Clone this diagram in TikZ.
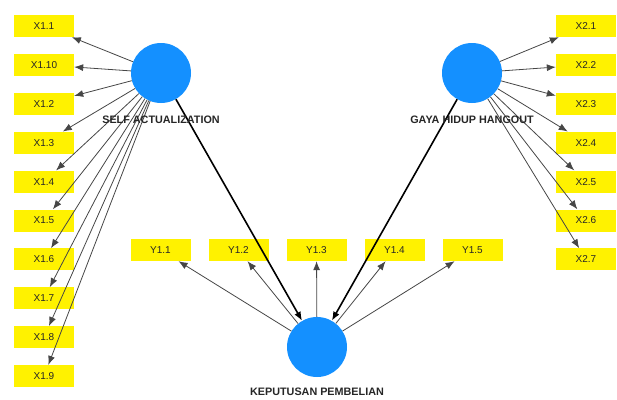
\documentclass[tikz,border=0pt]{standalone}
\usepackage{fontspec}
\setmainfont{Liberation Sans}
\usetikzlibrary{arrows.meta}

\definecolor{latentblue}{RGB}{20,144,255}
\definecolor{pathgray}{RGB}{70,70,70}

\begin{document}
\begin{tikzpicture}[x = 1pt, y = -1pt, > = {Latex[length = 9pt, width = 7pt]},
	indicator/.style = {fill = yellow, minimum width = 60pt, minimum height = 22pt, inner sep = 0pt,
		font = \fontsize{10}{12}\selectfont, text = black!85},
	latent/.style = {circle, fill = latentblue, minimum size = 60pt, inner sep = 0pt},
	lvlabel/.style = {font = \bfseries\fontsize{10.8}{12}\selectfont, text = black!85},
	loading/.style = {->, draw = pathgray, line width = 0.8pt},
	structural/.style = {->, black, line width = 1.6pt}]

	\useasboundingbox (0, 0) rectangle (617, 399);

	% Definitions

	\def\dy{38.9}		% Vertical spacing of indicators
	\def\dx{78}			% Horizontal spacing of indicators

	% Latent variables

	\node [latent] (SA) at (161, 73) {};
	\node [latent] (GHH) at (472, 73) {};
	\node [latent] (KP) at (317, 347) {};

	% Indicators

	\foreach \lbl [count = \i] in {1.1, 1.10, 1.2, 1.3, 1.4, 1.5, 1.6, 1.7, 1.8, 1.9}
		\node [indicator] (x1-\i) at (44, {26 + (\i - 1) * \dy}) {X\lbl};
	\foreach \i in {1, ..., 7}
		\node [indicator] (x2-\i) at (586, {26 + (\i - 1) * \dy}) {X2.\i};
	\foreach \i in {1, ..., 5}
		\node [indicator] (y1-\i) at ({160.5 + (\i - 1) * \dx}, 250) {Y1.\i};

	% Outer loadings

	\foreach \i in {1, ..., 10}
		\draw [loading] (SA) -- (x1-\i);
	\foreach \i in {1, ..., 7}
		\draw [loading] (GHH) -- (x2-\i);
	\foreach \i in {1, ..., 5}
		\draw [loading] (KP) -- (y1-\i);

	% Inner paths

	\draw [structural] (SA) -- (KP);
	\draw [structural] (GHH) -- (KP);

	% Latent labels

	\node [lvlabel] (SAlabel) at (161, 120) {SELF ACTUALIZATION};
	\node [lvlabel] (GHHlabel) at (472, 120) {GAYA HIDUP HANGOUT};
	\node [lvlabel] (KPlabel) at (317, 392) {KEPUTUSAN PEMBELIAN};

\end{tikzpicture}
\end{document}
